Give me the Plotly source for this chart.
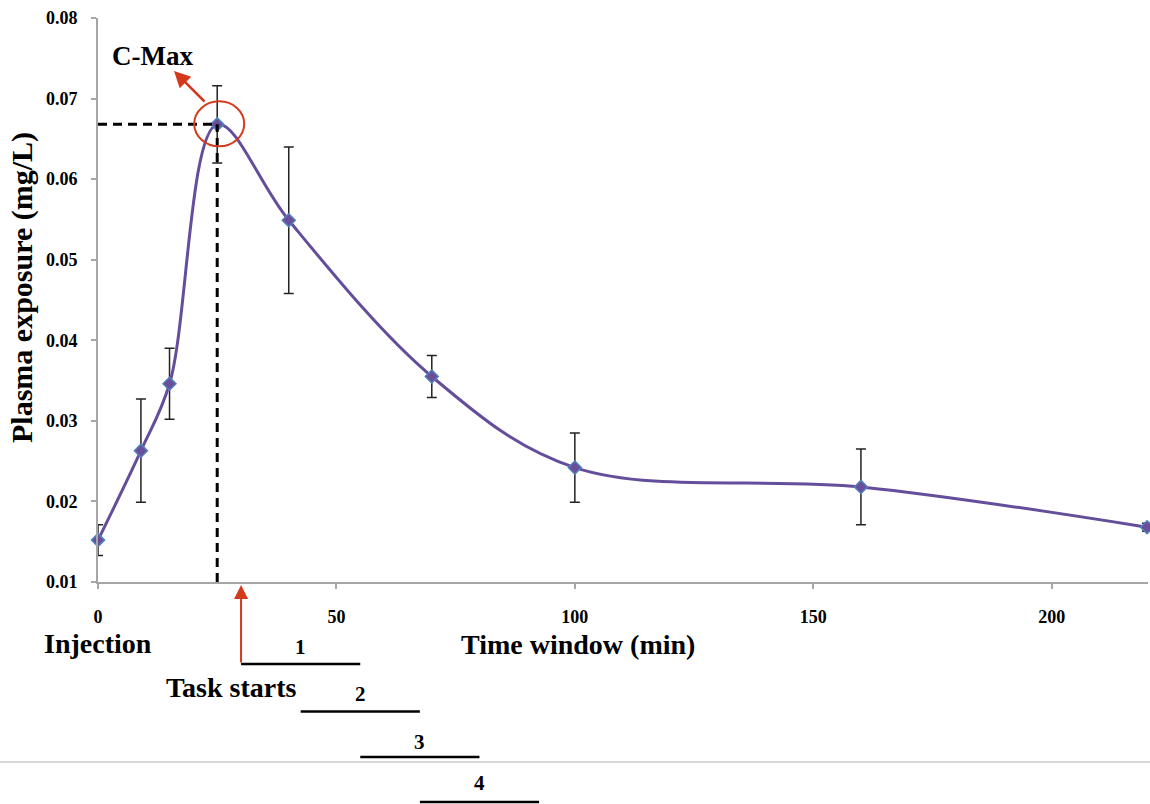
import plotly.graph_objects as go

# ---- data ----
time_min = [0, 9, 15, 25, 40, 70, 100, 160, 220]
plasma = [0.0152, 0.0263, 0.0346, 0.0668, 0.0549, 0.0355, 0.0242, 0.0218, 0.0168]
plasma_err = [0.0019, 0.0064, 0.0044, 0.0048, 0.0091, 0.0026, 0.0043, 0.0047, 0.0005]
x_ticks = [0, 50, 100, 150, 200]
y_ticks = [0.01, 0.02, 0.03, 0.04, 0.05, 0.06, 0.07, 0.08]
task_labels = ["1", "2", "3", "4"]
task_start = [30, 42.5, 55, 67.5]
task_end = [55, 67.5, 80, 92.5]

W, H = 1150, 804
L, R, T, B = 98, 2, 18, 222
PW, PH = W - L - R, H - T - B
XMAX = 220.2

def px(x):
    return (x - L) / PW

def py(y):
    return (H - B - y) / PH

FONT = "Liberation Serif"
RED = "#D4391C"

fig = go.Figure()
fig.add_trace(go.Scatter(
    x=time_min, y=plasma, mode="lines+markers",
    line=dict(color="#644E9B", width=3, shape="spline", smoothing=1.0),
    marker=dict(symbol="diamond", size=10, color="#6A4E9A",
                line=dict(color="#4F81BD", width=1.5)),
    error_y=dict(type="data", array=plasma_err, visible=True,
                 color="#222222", thickness=1.5, width=5),
    cliponaxis=False, showlegend=False,
))

i_max = plasma.index(max(plasma))
t_max, c_max = time_min[i_max], plasma[i_max]

shapes = [
    dict(type="line", xref="x", yref="y", x0=0, x1=t_max, y0=c_max, y1=c_max,
         line=dict(color="black", width=3, dash="9px,6px")),
    dict(type="line", xref="x", yref="y", x0=t_max, x1=t_max, y0=y_ticks[0], y1=c_max,
         line=dict(color="black", width=3, dash="9px,6px")),
    dict(type="circle", xref="x", yref="y", xsizemode="pixel", ysizemode="pixel",
         xanchor=t_max, yanchor=c_max, x0=-23, x1=27, y0=-22, y1=23,
         line=dict(color=RED, width=2)),
    dict(type="line", xref="paper", yref="paper", x0=px(0), x1=px(W), y0=py(762), y1=py(762),
         line=dict(color="#C8C8C8", width=1.5)),
]

task_y = [664, 711.5, 757, 802]
label_y = [646.5, 694, 741.5, 783]
annotations = []
for lab, s, e, ly, ty in zip(task_labels, task_start, task_end, task_y, label_y):
    shapes.append(dict(type="line", xref="x", yref="paper", x0=s, x1=e,
                       y0=py(ly), y1=py(ly), line=dict(color="black", width=2.5)))
    annotations.append(dict(text=lab, xref="x", yref="paper", x=(s + e) / 2, y=py(ty),
                            showarrow=False, font=dict(size=21, color="black"),
                            xanchor="center", yanchor="middle"))

# red task-start arrow
annotations.append(dict(text="", xref="x", yref="paper", x=task_start[0], y=py(585),
                        ax=0, ay=664 - 585, showarrow=True, arrowhead=2, arrowsize=1.4,
                        arrowwidth=2, arrowcolor=RED))
# C-Max arrow
annotations.append(dict(text="", xref="paper", yref="paper", x=px(174), y=py(71),
                        ax=32, ay=32, showarrow=True, arrowhead=2, arrowsize=1.3,
                        arrowwidth=2.5, arrowcolor=RED))
for txt, cx, cy, sz in [("C-Max", 152.5, 56, 27),
                        ("Injection", 98, 643, 28),
                        ("Time window (min)", 577.5, 644, 28),
                        ("Task starts", 231, 687, 28)]:
    annotations.append(dict(text=txt, xref="paper", yref="paper", x=px(cx), y=py(cy),
                            showarrow=False, font=dict(size=sz, color="black"),
                            xanchor="center", yanchor="middle"))
annotations.append(dict(text="Plasma exposure (mg/L)", xref="paper", yref="paper",
                        x=px(22), y=py(288), textangle=-90, showarrow=False,
                        font=dict(size=30, color="black"), xanchor="center", yanchor="middle"))

axis_common = dict(showline=True, linecolor="#A6A6A6", linewidth=2, ticks="outside",
                   ticklen=5, tickcolor="#A6A6A6", tickwidth=1.5, showgrid=False,
                   zeroline=False, tickfont=dict(size=18, color="black"))
fig.update_layout(
    width=W, height=H, margin=dict(l=L, r=R, t=T, b=B),
    paper_bgcolor="white", plot_bgcolor="white",
    font=dict(family=FONT, weight="bold", color="black"),
    xaxis=dict(range=[0, XMAX], tickvals=x_ticks, ticklabelstandoff=12, **axis_common),
    yaxis=dict(range=[y_ticks[0], y_ticks[-1]], tickvals=y_ticks, tickformat=".2f",
               ticklabelstandoff=10, **axis_common),
    shapes=shapes, annotations=annotations,
)
fig.write_html("out.html", config={"displayModeBar": False},
               post_script="document.body.style.margin='0';document.body.style.overflow='hidden';")
